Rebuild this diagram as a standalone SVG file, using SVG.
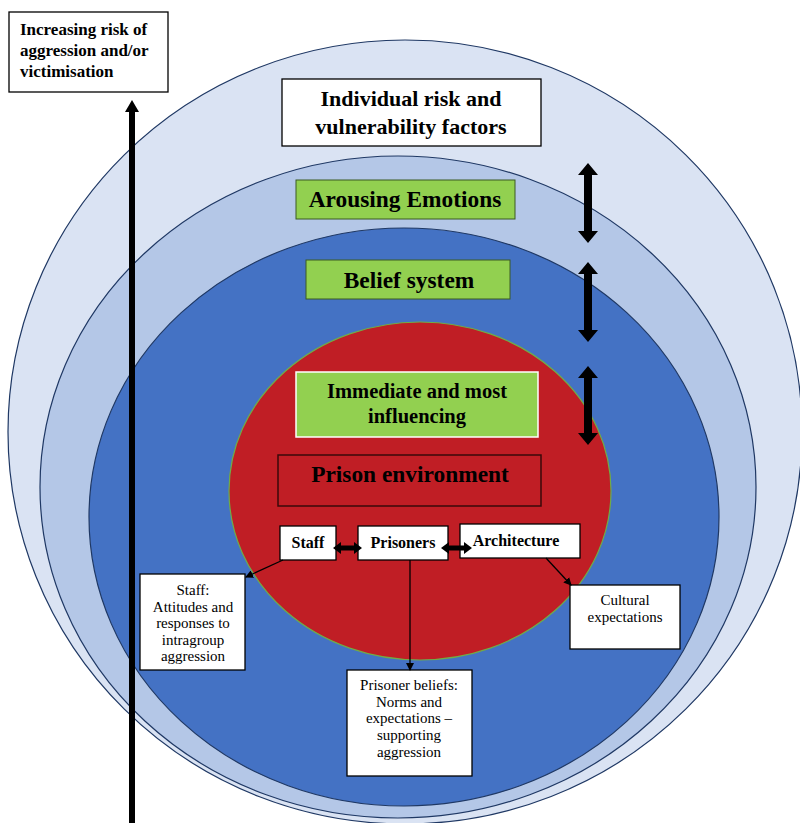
<svg xmlns="http://www.w3.org/2000/svg" width="800" height="823" viewBox="0 0 800 823">
<style>
.ring{stroke:#1f3864;stroke-width:1.2}
.box{fill:#fff;stroke:#000;stroke-width:1.3}
.gbox{fill:#92d050;stroke:#3a5a22;stroke-width:1}
text{font-family:'Liberation Serif','DejaVu Serif',serif;fill:#000}
.t{text-anchor:middle}
.b{font-weight:bold}
.s{font-size:15px}
.ln{stroke:#000;stroke-width:1.3;fill:none}
.blk{fill:#000}
</style>
<defs>
<marker id="ah" markerWidth="8" markerHeight="8" refX="7" refY="4" orient="auto" markerUnits="userSpaceOnUse"><path d="M0,0 L8,4 L0,8 Z" fill="#000"/></marker>
</defs>
<rect width="800" height="823" fill="#fff"/>
<g id="rings">
<ellipse class="ring" cx="405" cy="432" rx="397" ry="392" fill="#dae3f3"/>
<ellipse class="ring" cx="398" cy="487" rx="358" ry="331" fill="#b4c7e7"/>
<ellipse class="ring" cx="404" cy="517" rx="315" ry="289" fill="#4472c4"/>
<ellipse cx="420" cy="491" rx="191" ry="169" fill="#c01e25" stroke="#70ad47" stroke-width="1.2"/>
</g>
<g id="axis">
<path class="blk" d="M132,100 L139,112 L135,112 L135,823 L129,823 L129,112 L125,112 Z"/>
</g>
<g id="risk-label">
<rect class="box" x="9" y="12" width="159" height="80"/>
<text class="b" font-size="17" x="20" y="35">Increasing risk of</text>
<text class="b" font-size="17" x="20" y="56">aggression and/or</text>
<text class="b" font-size="17" x="20" y="77">victimisation</text>
</g>
<g id="individual">
<rect class="box" x="282" y="79" width="259" height="67"/>
<text class="t b" font-size="22" x="411" y="106">Individual risk and</text>
<text class="t b" font-size="22" x="411" y="134">vulnerability factors</text>
</g>
<g id="arousing">
<rect class="gbox" x="296" y="180" width="219" height="39"/>
<text class="t b" font-size="23.4" x="405" y="207">Arousing Emotions</text>
</g>
<g id="belief">
<rect class="gbox" x="306" y="260" width="204" height="39"/>
<text class="t b" font-size="23.4" x="409" y="288">Belief system</text>
</g>
<g id="immediate">
<rect x="296" y="372" width="242" height="65" fill="#92d050" stroke="#fff" stroke-width="1.5"/>
<text class="t b" font-size="20.5" x="417" y="398">Immediate and most</text>
<text class="t b" font-size="20.5" x="417" y="423">influencing</text>
</g>
<g id="prison">
<rect x="278" y="455" width="263" height="51" fill="#c01e25" stroke="#3a0a0a" stroke-width="1.5"/>
<text class="t b" font-size="23.4" x="410" y="482">Prison environment</text>
</g>
<g id="staff">
<rect class="box" x="280" y="526" width="56" height="34"/>
<text class="t b" font-size="16" x="308" y="548">Staff</text>
</g>
<g id="prisoners">
<rect class="box" x="358" y="526" width="90" height="34"/>
<text class="t b" font-size="16" x="403" y="548">Prisoners</text>
</g>
<g id="architecture">
<rect class="box" x="460" y="524" width="120" height="34"/>
<text class="t b" font-size="16" x="516" y="546">Architecture</text>
</g>
<g id="staff-attitudes">
<rect class="box" x="140" y="574" width="105" height="96"/>
<text class="t s" x="193" y="595">Staff:</text>
<text class="t s" x="193" y="612">Attitudes and</text>
<text class="t s" x="193" y="628">responses to</text>
<text class="t s" x="193" y="645">intragroup</text>
<text class="t s" x="193" y="661">aggression</text>
</g>
<g id="prisoner-beliefs">
<rect class="box" x="347" y="670" width="125" height="106"/>
<text class="t s" x="409" y="690">Prisoner beliefs:</text>
<text class="t s" x="409" y="707">Norms and</text>
<text class="t s" x="409" y="723">expectations –</text>
<text class="t s" x="409" y="740">supporting</text>
<text class="t s" x="409" y="757">aggression</text>
</g>
<g id="cultural">
<rect class="box" x="570" y="585" width="110" height="64"/>
<text class="t s" x="625" y="605">Cultural</text>
<text class="t s" x="625" y="622">expectations</text>
</g>
<g id="connectors">
<path class="blk" d="M588,163 L598,175 L592,175 L592,231 L598,231 L588,243 L578,231 L584,231 L584,175 L578,175 Z"/>
<path class="blk" d="M588,262 L598,274 L592,274 L592,330 L598,330 L588,342 L578,330 L584,330 L584,274 L578,274 Z"/>
<path class="blk" d="M588,366 L598,378 L592,378 L592,433 L598,433 L588,445 L578,433 L584,433 L584,378 L578,378 Z"/>
<path class="blk" d="M333,548 L341,542 L341,545.5 L354,545.5 L354,542 L362,548 L354,554 L354,550.5 L341,550.5 L341,554 Z"/>
<path class="blk" d="M441,548 L449,542 L449,545.5 L464,545.5 L464,542 L472,548 L464,554 L464,550.5 L449,550.5 L449,554 Z"/>
<line class="ln" x1="283" y1="560" x2="246" y2="577" marker-end="url(#ah)"/>
<line class="ln" x1="410" y1="560" x2="410" y2="670" marker-end="url(#ah)"/>
<line class="ln" x1="546" y1="558" x2="571" y2="585" marker-end="url(#ah)"/>
</g>
</svg>
